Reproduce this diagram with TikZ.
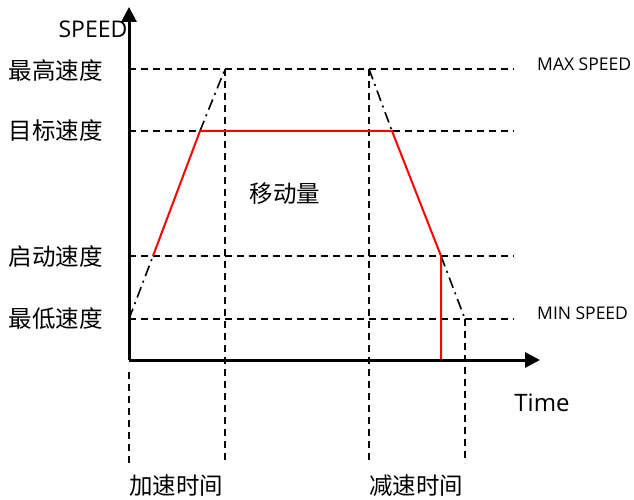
\documentclass[tikz,border=0pt]{standalone}
\usepackage{fontspec}
\setmainfont{Open Sans}
\newfontfamily\cjk{Noto Sans CJK SC}
\usetikzlibrary{arrows.meta}
\begin{document}
\begin{tikzpicture}[x=1pt,y=-1pt,
  axis/.style={line width=3pt,-{Triangle[width=15pt,length=15pt]}},
  guide/.style={line width=1.9pt,dash pattern=on 7pt off 5pt},
  dashdot/.style={line width=1.6pt,dash pattern=on 11pt off 5pt on 2pt off 5pt},
  prof/.style={line width=2pt,red},
  cjklab/.style={font=\cjk\fontsize{23.5}{26}\selectfont,inner sep=0pt},
  latlab/.style={inner sep=0pt}]
\useasboundingbox (0,0) rectangle (634,500);
% key coordinates
\coordinate (O) at (129,360);
\coordinate (ytip) at (129,7);
\coordinate (xtip) at (540,360);
% guides horizontal
\coordinate (hmax1) at (129,69);  \coordinate (hmax2) at (514,69);
\coordinate (htar1) at (129,131); \coordinate (htar2) at (514,131);
\coordinate (hsta1) at (129,256); \coordinate (hsta2) at (514,256);
\coordinate (hmin1) at (129,319); \coordinate (hmin2) at (514,319);
\draw[guide] (hmax1) -- (hmax2);
\draw[guide] (htar1) -- (htar2);
\draw[guide] (hsta1) -- (hsta2);
\draw[guide] (hmin1) -- (hmin2);
% guides vertical
\coordinate (v1a) at (129,372); \coordinate (v1b) at (129,463);
\coordinate (v2a) at (225,69);  \coordinate (v2b) at (225,463);
\coordinate (v3a) at (369,69);  \coordinate (v3b) at (369,463);
\coordinate (v4a) at (465,319); \coordinate (v4b) at (465,463);
\draw[guide] (v1a) -- (v1b);
\draw[guide] (v2a) -- (v2b);
\draw[guide] (v3a) -- (v3b);
\draw[guide] (v4a) -- (v4b);
% profile
\coordinate (a0) at (129,319);
\coordinate (a1) at (153,256);
\coordinate (a2) at (200,131);
\coordinate (a3) at (225,69);
\coordinate (d0) at (369,69);
\coordinate (d1) at (392,131);
\coordinate (d2) at (441,256);
\coordinate (d3) at (465,319);
\coordinate (dz) at (441,360);
\draw[dashdot] (a0) -- (a1);
\draw[dashdot] (a2) -- (a3);
\draw[dashdot] (d0) -- (d1);
\draw[dashdot] (d2) -- (d3);
\draw[prof] (a1) -- (a2) -- (d1) -- (d2) -- (dz);
% axes
\draw[axis] (O) -- (ytip);
\draw[axis] (O) -- (xtip);
% labels
\node[latlab,font=\fontsize{23}{26}\selectfont] (speed) at (93,29) {SPEED};
\node[cjklab] (lmax) at (56,71) {最高速度};
\node[cjklab] (ltar) at (56,131) {目标速度};
\node[cjklab] (lsta) at (56,257) {启动速度};
\node[cjklab] (lmin) at (56,319) {最低速度};
\node[latlab,anchor=west,font=\fontsize{17.5}{20}\selectfont] (maxs) at (537,64) {MAX SPEED};
\node[latlab,anchor=west,font=\fontsize{17.5}{20}\selectfont] (mins) at (537,313) {MIN SPEED};
\node[latlab,font=\fontsize{24}{27}\selectfont] (time) at (542,403) {Time};
\node[cjklab] (move) at (285,194) {移动量};
\node[cjklab] (acc) at (176,486) {加速时间};
\node[cjklab] (dec) at (416,486) {减速时间};
\end{tikzpicture}
\end{document}
